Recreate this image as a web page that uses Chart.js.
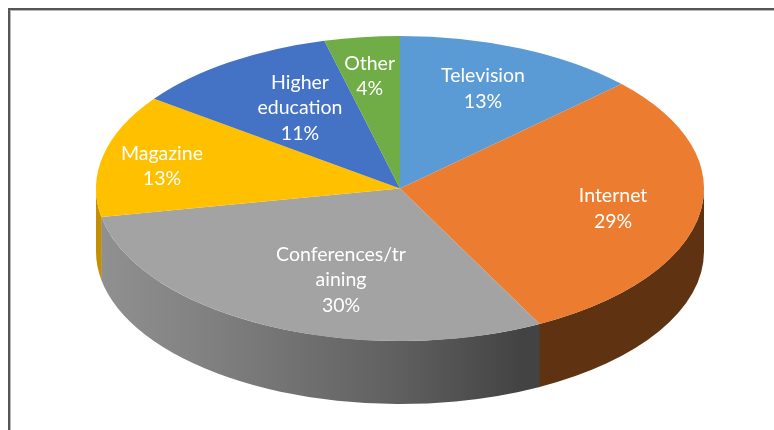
<!DOCTYPE html>
<html>
<head>
<meta charset="utf-8">
<style>html,body{margin:0;padding:0;background:#fff}canvas{display:block}</style>
<script src="https://cdn.jsdelivr.net/npm/chart.js@4/dist/chart.umd.min.js"></script>
</head>
<body>
<canvas id="c" width="774" height="430"></canvas>
<script>
const categories = ['Television', 'Internet', 'Conferences/training', 'Magazine', 'Higher education', 'Other'];
const shares = [13, 29.4, 29.6, 13, 11, 4];
const labelLines = [['Television'], ['Internet'], ['Conferences/tr', 'aining'], ['Magazine'], ['Higher', 'education'], ['Other']];
const topColors = ['#5B9BD5', '#EB7C30', '#A3A3A3', '#FFC000', '#4472C4', '#70AD47'];

const STRETCH = 304 / 152.5;   // horizontal squash of the circular pie into an ellipse
const DEPTH = 63;

function stretch(ctx, el) {
  ctx.translate(el.x, el.y);
  ctx.scale(STRETCH, 1);
  ctx.translate(-el.x, -el.y);
}

const frame = {
  id: 'frame',
  beforeDraw(chart) {
    const ctx = chart.ctx;
    ctx.save();
    ctx.fillStyle = '#fff';
    ctx.fillRect(0, 0, chart.width, chart.height);
    ctx.fillStyle = '#b8b8b8';
    ctx.fillRect(9, 10, chart.width - 9, 1);
    ctx.fillRect(10, 10, 1, chart.height - 10);
    ctx.fillStyle = '#565656';
    ctx.fillRect(8, 8, chart.width - 8, 2);
    ctx.fillRect(8, 8, 2, chart.height - 8);
    ctx.restore();
  }
};

const pie3d = {
  id: 'pie3d',
  beforeDatasetsDraw(chart) {
    const ctx = chart.ctx;
    const arcs = chart.getDatasetMeta(0).data;
    const c = arcs[0];
    const rx = c.outerRadius * STRETCH, ry = c.outerRadius;
    const wall = ctx.createLinearGradient(c.x - rx, 0, c.x + rx, 0);
    wall.addColorStop(0, '#919191');
    wall.addColorStop(0.2, '#7f7f7f');
    wall.addColorStop(0.5, '#5f5f5f');
    wall.addColorStop(0.7, '#434343');
    wall.addColorStop(1, '#424242');
    const fills = ['#44698f', '#5f3212', wall, '#C49000', '#2f5597', '#4e7a32'];
    ctx.save();
    arcs.forEach((a, i) => {
      const s = Math.max(a.startAngle, 0), e = Math.min(a.endAngle + 0.004, Math.PI);
      if (e <= s) return;
      ctx.beginPath();
      ctx.ellipse(a.x, a.y, rx, ry, 0, s, e);
      ctx.ellipse(a.x, a.y + DEPTH, rx, ry, 0, e, s, true);
      ctx.closePath();
      ctx.fillStyle = fills[i];
      ctx.fill();
    });
    ctx.restore();
    ctx.save();
    stretch(ctx, c);
  },
  afterDatasetsDraw(chart) {
    const ctx = chart.ctx;
    ctx.restore();
    const arcs = chart.getDatasetMeta(0).data;
    // label centres, as fractions of the ellipse radii from the pie centre
    const spotX = [0.273, 0.701, -0.194, -0.783, -0.329, -0.100];
    const spotY = [-0.655, 0.132, 0.601, -0.147, -0.527, -0.737];
    ctx.save();
    ctx.fillStyle = '#fff';
    ctx.font = '19.5px Lato, Carlito, sans-serif';
    ctx.textAlign = 'center';
    ctx.textBaseline = 'middle';
    arcs.forEach((a, i) => {
      const lines = labelLines[i].concat(Math.round(shares[i]) + '%');
      const x = a.x + spotX[i] * a.outerRadius * STRETCH;
      const y = a.y + spotY[i] * a.outerRadius;
      const lh = 25.7;
      lines.forEach((t, k) => ctx.fillText(t, x, y + (k - (lines.length - 1) / 2) * lh));
    });
    ctx.restore();
  }
};

new Chart(document.getElementById('c'), {
  type: 'pie',
  data: {
    labels: categories,
    datasets: [{ data: shares, backgroundColor: topColors, borderWidth: 0, hoverBorderWidth: 0, clip: false }]
  },
  options: {
    responsive: false,
    animation: false,
    events: [],
    layout: { padding: { left: 26, right: 0, top: 36, bottom: 89 } },
    plugins: { legend: { display: false }, tooltip: { enabled: false } }
  },
  plugins: [frame, pie3d]
});
</script>
</body>
</html>
